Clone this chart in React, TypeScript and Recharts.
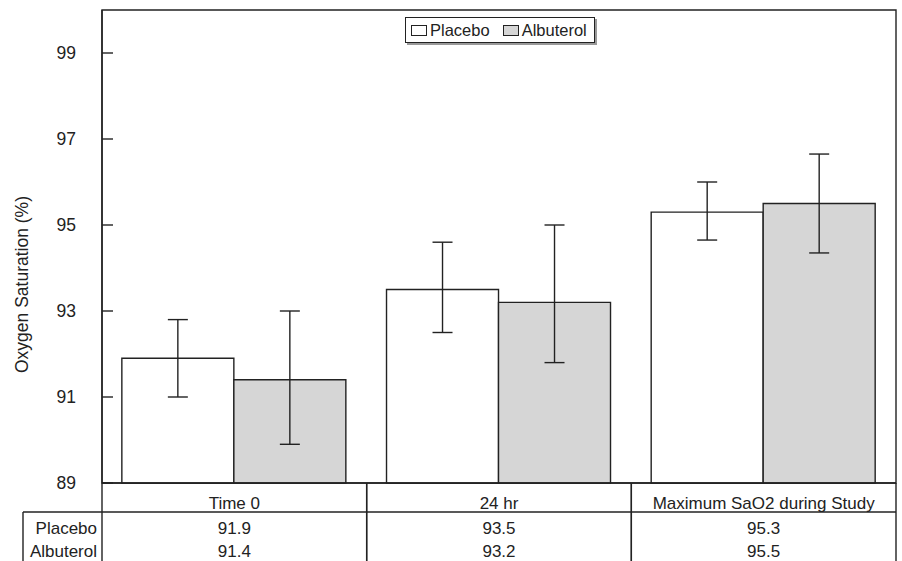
import {
  BarChart,
  Bar,
  XAxis,
  YAxis,
  ErrorBar,
  Legend,
  ReferenceArea,
} from "recharts";

const categories = ["Time 0", "24 hr", "Maximum SaO2 during Study"];
const placebo = [91.9, 93.5, 95.3];
const albuterol = [91.4, 93.2, 95.5];
// [below, above] whisker lengths
const placeboErr = [[0.9, 0.9], [1.0, 1.1], [0.65, 0.7]];
const albuterolErr = [[1.5, 1.6], [1.4, 1.8], [1.15, 1.15]];
const yTicks = [89, 91, 93, 95, 97, 99];
const rowLabels = ["Placebo", "Albuterol"];

const FONT = '"Liberation Sans", Arial, sans-serif';
const INK = "#222";
const GRAY = "#d6d6d6";
const SW = 1.4;

const data = categories.map((name, i) => ({
  name,
  placebo: placebo[i],
  albuterol: albuterol[i],
  placeboErr: placeboErr[i],
  albuterolErr: albuterolErr[i],
}));

function YTick({ x, y, payload }: any) {
  return (
    <g>
      <line x1={x} x2={x + 11} y1={y} y2={y} stroke={INK} strokeWidth={SW} />
      <text x={x - 26} y={y} dy={6} textAnchor="end" fontSize={17.5} fill={INK} fontFamily={FONT}>
        {payload.value}
      </text>
    </g>
  );
}

// category names + the value table under the axis
function TableTick({ x, y, payload }: any) {
  const i = payload.index;
  const half = payload.offset || 794 / 6;
  const left = x - half;
  const right = x + half;
  const bottom = y + 80;
  const rowY = y + 29;
  return (
    <g fontFamily={FONT} fill={INK}>
      <line x1={left} x2={left} y1={y} y2={bottom} stroke={INK} strokeWidth={SW} />
      <line x1={right} x2={right} y1={y} y2={bottom} stroke={INK} strokeWidth={SW} />
      <line x1={left} x2={right} y1={rowY} y2={rowY} stroke={INK} strokeWidth={SW} />
      <text x={x} y={y + 26} textAnchor="middle" fontSize={17}>{payload.value}</text>
      <text x={x} y={y + 51} textAnchor="middle" fontSize={17}>{placebo[i].toFixed(1)}</text>
      <text x={x} y={y + 74} textAnchor="middle" fontSize={17}>{albuterol[i].toFixed(1)}</text>
      {i === 0 && (
        <g>
          <line x1={left - 79} x2={left} y1={rowY} y2={rowY} stroke={INK} strokeWidth={SW} />
          <line x1={left - 79} x2={left - 79} y1={rowY} y2={bottom} stroke={INK} strokeWidth={SW} />
          <text x={left - 5} y={y + 51} textAnchor="end" fontSize={17}>{rowLabels[0]}</text>
          <text x={left - 5} y={y + 74} textAnchor="end" fontSize={17}>{rowLabels[1]}</text>
        </g>
      )}
    </g>
  );
}

function YLabel({ viewBox }: any) {
  const cx = viewBox.x - 20;
  const cy = viewBox.y + viewBox.height / 2 + 38;
  return (
    <text
      x={cx}
      y={cy}
      transform={`rotate(-90, ${cx}, ${cy})`}
      textAnchor="middle"
      dominantBaseline="central"
      fontSize={17.5}
      fill={INK}
      fontFamily={FONT}
    >
      Oxygen Saturation (%)
    </text>
  );
}

function LegendBox() {
  const swatch = (fill: string) => (
    <span
      style={{
        display: "inline-block",
        width: 14,
        height: 9,
        border: `1px solid ${INK}`,
        background: fill,
        marginRight: 3,
      }}
    />
  );
  return (
    <div
      style={{
        border: `1.5px solid ${INK}`,
        boxShadow: "2px 2px 0 #999",
        background: "#fff",
        height: 26,
        display: "flex",
        alignItems: "center",
        padding: "0 5px",
        fontFamily: FONT,
        fontSize: 16.5,
        color: INK,
        boxSizing: "border-box",
      }}
    >
      {swatch("#fff")}
      <span style={{ marginRight: 13 }}>Placebo</span>
      {swatch(GRAY)}
      <span>Albuterol</span>
    </div>
  );
}

export default function App() {
  return (
    <div style={{ position: "absolute", left: 0, top: 0, background: "#fff" }}>
      <BarChart
        width={902}
        height={561}
        data={data}
        margin={{ top: 10, right: 6, left: 42, bottom: 0 }}
        barCategoryGap="7.5%"
        barGap={0}
      >
        <ReferenceArea y1={89} y2={100} fill="none" stroke={INK} strokeWidth={SW} />
        <XAxis
          dataKey="name"
          axisLine={{ stroke: INK, strokeWidth: SW }}
          tickLine={false}
          tickSize={0}
          tickMargin={0}
          interval={0}
          height={78}
          tick={<TableTick />}
        />
        <YAxis
          domain={[89, 100]}
          ticks={yTicks}
          width={60}
          axisLine={{ stroke: INK, strokeWidth: SW }}
          tickLine={false}
          tickSize={0}
          tickMargin={0}
          tick={<YTick />}
          label={<YLabel />}
        />
        <Legend
          layout="horizontal"
          verticalAlign="middle"
          align="center"
          wrapperStyle={{ top: 17, left: 405, width: 190 }}
          content={<LegendBox />}
        />
        <Bar dataKey="placebo" fill="#fff" stroke={INK} strokeWidth={SW} isAnimationActive={false}>
          <ErrorBar dataKey="placeboErr" width={10} stroke={INK} strokeWidth={SW} />
        </Bar>
        <Bar dataKey="albuterol" fill={GRAY} stroke={INK} strokeWidth={SW} isAnimationActive={false}>
          <ErrorBar dataKey="albuterolErr" width={10} stroke={INK} strokeWidth={SW} />
        </Bar>
      </BarChart>
    </div>
  );
}
